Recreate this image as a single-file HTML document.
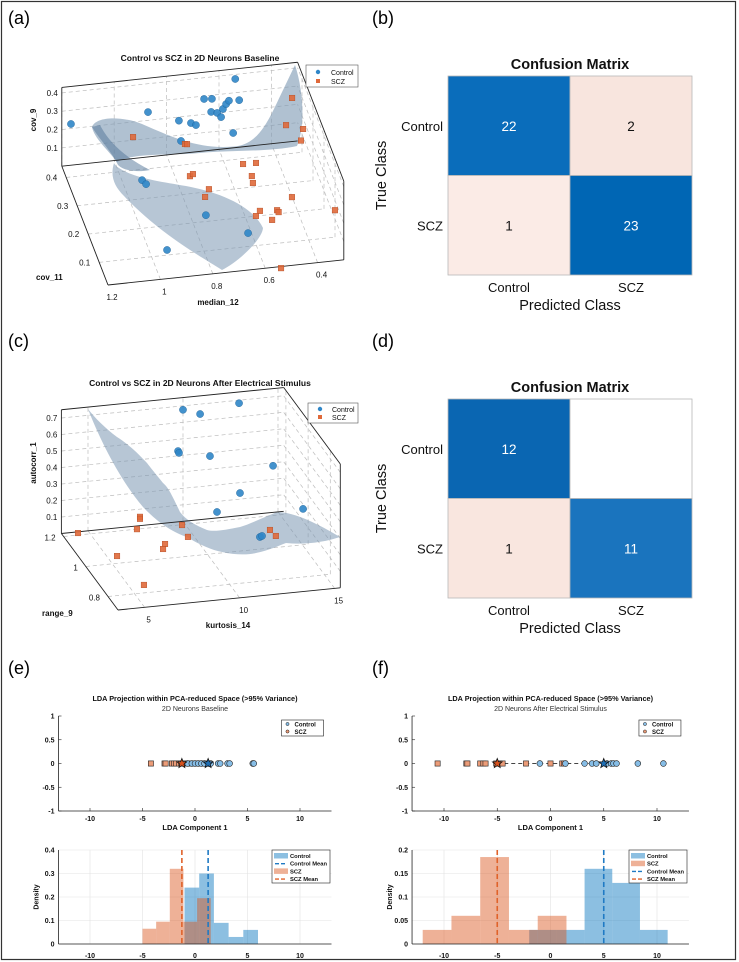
<!DOCTYPE html>
<html><head><meta charset="utf-8">
<style>
html,body{margin:0;padding:0;background:#fff;}
svg{display:block;font-family:"Liberation Sans",Arial,sans-serif;}
</style></head>
<body>
<svg id="fig" width="739" height="962" viewBox="0 0 739 962">
<rect x="1.5" y="1.5" width="734" height="958" fill="#fff" stroke="#333" stroke-width="1.2"/>
<text x="8" y="24" font-size="18">(a)</text>
<text x="372" y="24" font-size="18">(b)</text>
<text x="8" y="347" font-size="18">(c)</text>
<text x="372" y="347" font-size="18">(d)</text>
<text x="8" y="674" font-size="18">(e)</text>
<text x="372" y="674" font-size="18">(f)</text>
</svg>
<script>
// ---------------- DATA ----------------
// Panel a (3D): median_12, cov_11, cov_9
const aCtrlM = [1.165,0.871,0.753,0.707,0.688,0.745,0.657,0.627,0.63,0.607,0.592,0.585,0.573,0.562,0.523,0.538,0.546,0.931,0.922,0.747,0.618,0.939];
const aCtrlC = [0.44,0.44,0.44,0.44,0.44,0.44,0.44,0.44,0.44,0.44,0.44,0.44,0.44,0.44,0.44,0.44,0.44,0.351,0.336,0.209,0.133,0.105];
const aCtrlV = [0.225,0.245,0.18,0.16,0.146,0.068,0.284,0.28,0.209,0.2,0.175,0.218,0.243,0.26,0.257,0.375,0.081,0.02,0.02,0.02,0.02,0.02];
const aSczM = [0.928,0.73,0.722,0.321,0.344,0.279,0.287,0.538,0.489,0.75,0.736,0.523,0.529,0.699,0.724,0.406,0.543,0.479,0.476,0.565,0.511,0.267,0.547];
const aSczC = [0.44,0.44,0.44,0.44,0.44,0.44,0.44,0.369,0.368,0.347,0.353,0.325,0.301,0.296,0.271,0.239,0.204,0.2,0.193,0.188,0.169,0.179,0.002];
const aSczV = [0.117,0.049,0.047,0.238,0.093,0.062,0.0,0.02,0.02,0.02,0.02,0.02,0.02,0.02,0.02,0.02,0.02,0.02,0.02,0.02,0.02,0.02,0.02];
const aTicksM = [1.2,1,0.8,0.6,0.4];
const aTicksC = [0.1,0.2,0.3,0.4];
const aTicksV = [0.1,0.2,0.3,0.4];
// Panel c (3D): kurtosis_14, range_9, autocorr_1
const cCtrlK = [10.0,10.9,12.95,9.74,9.79,11.42,14.74,13.0,11.79,14.45,12.18,12.29];
const cCtrlR = [1.22,1.22,1.22,1.22,1.22,1.22,1.22,1.22,1.22,0.9,0.9,0.9];
const cCtrlA = [0.676,0.64,0.682,0.429,0.417,0.379,0.282,0.137,0.036,0.315,0.171,0.176];
const cSczK = [4.31,7.62,7.62,7.46,9.7,9.56,8.18,7.9,5.39,5.66,13.83,13.9];
const cSczR = [1.192,1.2,1.2,1.2,1.177,1.1,1.07,1.04,1.025,0.829,1.092,1.051];
const cSczA = [0.02,0.073,0.061,0.0,0.02,0.02,0.02,0.02,0.02,0.02,0.02,0.02];
const cTicksK = [5,10,15];
const cTicksR = [0.8,1,1.2];
const cTicksA = [0.1,0.2,0.3,0.4,0.5,0.6,0.7];
// Confusion matrices
const cmClasses = ['Control','SCZ'];
const cmB = [[22,2],[1,23]];
const cmD = [[12,0],[1,11]];
// Panel e
const eCtrlPts = [-0.7,-0.3,0.0,0.3,0.6,0.9,1.3,1.5,2.2,2.4,3.1,3.3,5.5,5.6];
const eSczPts = [-4.2,-2.9,-2.8,-2.2,-2.0,-1.8,-1.5,-1.3,-1.0,-0.7,-0.4,-0.1,0.2,0.5,0.8,1.0];
const eCtrlMean = 1.25, eSczMean = -1.25;
const eCtrlEdges = [-1.0,0.4,1.8,3.2,4.6,6.0];
const eCtrlDens = [0.24,0.30,0.09,0.03,0.06];
const eSczEdges = [-5.0,-3.7,-2.4,-1.1,0.2,1.5];
const eSczDens = [0.065,0.095,0.32,0.095,0.195];
const eYTicks = [0,0.1,0.2,0.3,0.4];
// Panel f
const fCtrlPts = [-1.0,1.4,3.2,3.9,4.3,5.3,5.7,5.9,6.2,8.2,10.6];
const fSczPts = [-10.6,-7.9,-7.8,-6.6,-6.3,-6.1,-5.1,-4.8,-4.5,-2.3,0.0,1.1,1.3];
const fCtrlMean = 5.0, fSczMean = -5.0;
const fCtrlEdges = [-2.0,0.6,3.2,5.8,8.4,11.0];
const fCtrlDens = [0.03,0.03,0.16,0.13,0.03];
const fSczEdges = [-12.0,-9.3,-6.6,-3.9,-1.2,1.5];
const fSczDens = [0.03,0.06,0.185,0.03,0.06];
const fYTicks = [0,0.05,0.1,0.15,0.2];
const ldaXTicks = [-10,-5,0,5,10];
const scatYTicks = [-1,-0.5,0,0.5,1];

// ---------------- HELPERS ----------------
const svg = document.getElementById('fig');
const NS = 'http://www.w3.org/2000/svg';
function mk(tag, attrs, parent){
  const e = document.createElementNS(NS, tag);
  for (const k in attrs) e.setAttribute(k, attrs[k]);
  (parent || svg).appendChild(e);
  return e;
}
function txt(x, y, s, size, opts, name){
  const o = Object.assign({x:x, y:y, 'font-size':size, fill:'#111'}, opts||{});
  const e = mk('text', o);
  e.textContent = s;
  
  
  return e;
}
function line(x1,y1,x2,y2,stroke,w,dash,name){
  const e = mk('line',{x1:x1,y1:y1,x2:x2,y2:y2,stroke:stroke,'stroke-width':w});
  if (dash) e.setAttribute('stroke-dasharray', dash);
  
  
  return e;
}
const CB = '#2f86c8', CBE = '#1d5f96', CO = '#e0693a', COE = '#b04a22';

// ---------------- PANEL A ----------------
function pa(m,c,v){ return [108 + (m-1.2)*(-262) + (c-0.02)*(-110), 285 + (m-1.2)*28 + (c-0.02)*(-283) - v*183]; }
const A_M0=1.2, A_M1=0.3, A_C0=0.02, A_C1=0.44, A_V1=0.43;
(function(){
  const g = mk('g',{});
  
  
  const gs='#bdbdbd', dash='4,3';
  // back wall grid
  aTicksV.forEach(v=>{ const p=pa(A_M0,A_C1,v), q=pa(A_M1,A_C1,v); line(p[0],p[1],q[0],q[1],gs,0.7,dash,'a-grid-back-v'); });
  aTicksM.forEach(m=>{ const p=pa(m,A_C1,0), q=pa(m,A_C1,A_V1); line(p[0],p[1],q[0],q[1],gs,0.7,dash,'a-grid-back-m'); });
  // floor grid
  aTicksM.forEach(m=>{ const p=pa(m,A_C0,0), q=pa(m,A_C1,0); line(p[0],p[1],q[0],q[1],gs,0.7,dash,'a-grid-floor-m'); });
  aTicksC.forEach(c=>{ const p=pa(A_M0,c,0), q=pa(A_M1,c,0); line(p[0],p[1],q[0],q[1],gs,0.7,dash,'a-grid-floor-c'); });
  // right wall grid
  aTicksC.forEach(c=>{ const p=pa(A_M1,c,0), q=pa(A_M1,c,A_V1); line(p[0],p[1],q[0],q[1],gs,0.7,dash,'a-grid-right-c'); });
  aTicksV.forEach(v=>{ const p=pa(A_M1,A_C0,v), q=pa(A_M1,A_C1,v); line(p[0],p[1],q[0],q[1],gs,0.7,dash,'a-grid-right-v'); });
  // decision surface
  const s1 = mk('path',{d:'M92,127 C96,116 122,116 142,124 C170,136 200,151 238,146 C262,142 272,112 284,88 L295,65 C304,92 305,128 297,146 C270,152 230,150 200,153 C170,156 135,152 117,162 C108,150 94,138 92,127 Z',fill:'#7b98b3','fill-opacity':0.6});
  
  
  const s2 = mk('path',{d:'M114,163 C110,176 114,186 124,196 C160,234 200,256 222,270 C238,262 262,240 263,228 C252,205 218,192 186,186 C158,181 132,178 116,166 Z',fill:'#7b98b3','fill-opacity':0.55});
  
  
  const s3 = mk('path',{d:'M92,127 C100,140 112,152 118,165 C125,172 140,172 150,170 C130,160 110,145 100,125 Z',fill:'#4f7397','fill-opacity':0.5});
  
  
  // box edges
  const E=[[[A_M0,A_C1,0],[A_M0,A_C1,A_V1]],[[A_M0,A_C1,A_V1],[A_M1,A_C1,A_V1]],[[A_M0,A_C1,0],[A_M1,A_C1,0]],[[A_M1,A_C1,A_V1],[A_M1,A_C0,A_V1]],[[A_M1,A_C0,0],[A_M1,A_C0,A_V1]],[[A_M0,A_C0,0],[A_M1,A_C0,0]],[[A_M0,A_C0,0],[A_M0,A_C1,0]],[[A_M1,A_C1,A_V1],[A_M1,A_C1,0]]];
  E.slice(0,7).forEach(e=>{ const p=pa(...e[0]), q=pa(...e[1]); line(p[0],p[1],q[0],q[1],'#222',0.9,null,'a-box-edge'); });
  // points
  aCtrlM.forEach((m,i)=>{ const p=pa(m,aCtrlC[i],aCtrlV[i]);
    const el=mk('circle',{cx:p[0],cy:p[1],r:3.6,fill:CB,stroke:CBE,'stroke-width':0.4,'fill-opacity':0.9});
    
     });
  aSczM.forEach((m,i)=>{ const p=pa(m,aSczC[i],aSczV[i]);
    const el=mk('rect',{x:p[0]-2.8,y:p[1]-2.8,width:5.6,height:5.6,fill:CO,stroke:COE,'stroke-width':0.4,'fill-opacity':0.9});
    
     });
  // ticks
  aTicksV.forEach(v=>{ const p=pa(A_M0,A_C1,v); txt(p[0]-4,p[1]+3,String(v),8,{'text-anchor':'end'},'a-zaxis-tick'); });
  aTicksC.forEach(c=>{ const p=pa(A_M0,c,0); txt(p[0]-9,p[1]+3,String(c),8,{'text-anchor':'end'},'a-yaxis-tick'); });
  aTicksM.forEach(m=>{ const p=pa(m,A_C0,0); txt(p[0]+4,p[1]+15,String(m),8,{'text-anchor':'middle'},'a-xaxis-tick'); });
  txt(200,61,'Control vs SCZ in 2D Neurons Baseline',8.5,{'font-weight':'bold','text-anchor':'middle'},'a-title');
  txt(36,120,'cov_9',8,{'font-weight':'bold','text-anchor':'middle',transform:'rotate(-90 36 120)'},'a-zaxis-title');
  txt(36,280,'cov_11',8,{'font-weight':'bold'},'a-yaxis-title');
  txt(218,305,'median_12',8,{'font-weight':'bold','text-anchor':'middle'},'a-xaxis-title');
  const lg=mk('rect',{x:306,y:65,width:52,height:22,fill:'#fff',stroke:'#555','stroke-width':0.6});
  
  
  const lc=mk('circle',{cx:318,cy:72,r:2.2,fill:CB});
  
  
  txt(331,75,'Control',7,{},'a-legend-control');
  const ls=mk('rect',{x:316,y:79,width:4,height:4,fill:CO});
  
  
  txt(331,84,'SCZ',7,{},'a-legend-scz');
})();

// ---------------- PANEL C ----------------
function pc(k,r,a){ return [118 + (k-3.6)*19 + (r-0.71)*(-111), 610 + (k-3.6)*(-1.9) + (r-0.71)*(-150) - a*165]; }
const C_K0=3.6, C_K1=15.3, C_R0=0.71, C_R1=1.22, C_A1=0.75;
(function(){
  const gs='#bdbdbd', dash='4,3';
  cTicksA.forEach(a=>{ const p=pc(C_K0,C_R1,a), q=pc(C_K1,C_R1,a); line(p[0],p[1],q[0],q[1],gs,0.7,dash,'c-grid-back-a'); });
  cTicksK.forEach(k=>{ const p=pc(k,C_R1,0), q=pc(k,C_R1,C_A1); line(p[0],p[1],q[0],q[1],gs,0.7,dash,'c-grid-back-k'); });
  cTicksK.forEach(k=>{ const p=pc(k,C_R0,0), q=pc(k,C_R1,0); line(p[0],p[1],q[0],q[1],gs,0.7,dash,'c-grid-floor-k'); });
  cTicksR.forEach(r=>{ const p=pc(C_K0,r,0), q=pc(C_K1,r,0); line(p[0],p[1],q[0],q[1],gs,0.7,dash,'c-grid-floor-r'); });
  cTicksR.forEach(r=>{ const p=pc(C_K1,r,0), q=pc(C_K1,r,C_A1); line(p[0],p[1],q[0],q[1],gs,0.7,dash,'c-grid-right-r'); });
  cTicksA.forEach(a=>{ const p=pc(C_K1,C_R0,a), q=pc(C_K1,C_R1,a); line(p[0],p[1],q[0],q[1],gs,0.7,dash,'c-grid-right-a'); });
  const s = mk('path',{d:'M88,409 C100,440 120,480 143,507 C160,525 175,533 187,537 C200,545 212,550 222,552 C235,555 248,555 256,553 C270,550 278,546 286,543 C305,545 325,542 340,537 C320,525 295,512 277,512 C262,518 250,524 240,527 C225,530 214,532 207,530 C195,525 186,520 180,512 C172,495 168,487 163,483 C155,473 150,467 147,463 C135,450 125,442 117,437 C105,428 95,418 88,409 Z',fill:'#7b98b3','fill-opacity':0.55});
  
  
  const E=[[[C_K0,C_R1,0],[C_K0,C_R1,C_A1]],[[C_K0,C_R1,C_A1],[C_K1,C_R1,C_A1]],[[C_K0,C_R1,0],[C_K1,C_R1,0]],[[C_K1,C_R1,C_A1],[C_K1,C_R0,C_A1]],[[C_K1,C_R0,0],[C_K1,C_R0,C_A1]],[[C_K0,C_R0,0],[C_K1,C_R0,0]],[[C_K0,C_R0,0],[C_K0,C_R1,0]]];
  E.forEach(e=>{ const p=pc(...e[0]), q=pc(...e[1]); line(p[0],p[1],q[0],q[1],'#222',0.9,null,'c-box-edge'); });
  cCtrlK.forEach((k,i)=>{ const p=pc(k,cCtrlR[i],cCtrlA[i]);
    const el=mk('circle',{cx:p[0],cy:p[1],r:3.6,fill:CB,stroke:CBE,'stroke-width':0.4,'fill-opacity':0.9});
    
     });
  cSczK.forEach((k,i)=>{ const p=pc(k,cSczR[i],cSczA[i]);
    const el=mk('rect',{x:p[0]-2.8,y:p[1]-2.8,width:5.6,height:5.6,fill:CO,stroke:COE,'stroke-width':0.4,'fill-opacity':0.9});
    
     });
  cTicksA.forEach(a=>{ const p=pc(C_K0,C_R1,a); txt(p[0]-4,p[1]+3,String(a),8,{'text-anchor':'end'},'c-zaxis-tick'); });
  cTicksR.forEach(r=>{ const p=pc(C_K0,r,0); txt(p[0]-8,p[1]+4,String(r),8,{'text-anchor':'end'},'c-yaxis-tick'); });
  cTicksK.forEach(k=>{ const p=pc(k,C_R0,0); txt(p[0]+4,p[1]+15,String(k),8,{'text-anchor':'middle'},'c-xaxis-tick'); });
  txt(200,386,'Control vs SCZ in 2D Neurons After Electrical Stimulus',8.5,{'font-weight':'bold','text-anchor':'middle'},'c-title');
  txt(36,463,'autocorr_1',8,{'font-weight':'bold','text-anchor':'middle',transform:'rotate(-90 36 463)'},'c-zaxis-title');
  txt(42,616,'range_9',8,{'font-weight':'bold'},'c-yaxis-title');
  txt(228,628,'kurtosis_14',8,{'font-weight':'bold','text-anchor':'middle'},'c-xaxis-title');
  const lg=mk('rect',{x:308,y:403,width:50,height:20,fill:'#fff',stroke:'#555','stroke-width':0.6});
  
  
  const lc=mk('circle',{cx:320,cy:409,r:2.2,fill:CB});
  
  
  txt(332,412,'Control',7,{},'c-legend-control');
  const ls=mk('rect',{x:318,y:415,width:4,height:4,fill:CO});
  
  
  txt(332,420,'SCZ',7,{},'c-legend-scz');
})();

// ---------------- CONFUSION MATRICES ----------------
function confMat(vals, x0, y0, w, h, id, colors){
  const cw=w/2, ch=h/2;
  for (let r=0;r<2;r++) for (let c=0;c<2;c++){
    const el=mk('rect',{x:x0+c*cw,y:y0+r*ch,width:cw,height:ch,fill:colors[r][c],stroke:'#b8b8b8','stroke-width':0.8});
    
    
    if (vals[r][c]>0) txt(x0+c*cw+cw/2, y0+r*ch+ch/2+5, String(vals[r][c]), 13.5, {'text-anchor':'middle',fill: (r===c?'#fff':'#111')}, id+'-cell-value');
  }
  txt(x0+w/2, y0-7, 'Confusion Matrix', 14.5, {'font-weight':'bold','text-anchor':'middle'}, id+'-title');
  cmClasses.forEach((s,i)=>{
    txt(x0-5, y0+i*ch+ch/2+5, s, 13, {'text-anchor':'end'}, id+'-row-label');
    txt(x0+i*cw+cw/2, y0+h+17, s, 13, {'text-anchor':'middle'}, id+'-col-label');
  });
  txt(x0+w/2, y0+h+35, 'Predicted Class', 14.5, {'text-anchor':'middle'}, id+'-xaxis-title');
  txt(x0-62, y0+h/2, 'True Class', 14.5, {'text-anchor':'middle',transform:'rotate(-90 '+(x0-62)+' '+(y0+h/2)+')'}, id+'-yaxis-title');
}
confMat(cmB, 448, 76, 244, 199, 'cm-b', [['#0a6dbb','#f8e5de'],['#fbebe6','#0066b4']]);
confMat(cmD, 448, 399, 244, 199, 'cm-d', [['#0a66b2','#ffffff'],['#f9e6df','#1a74be']]);

// ---------------- LDA PANELS ----------------
function ldaPanel(o){
  const X = v => o.x0 + v*o.kx;
  const Ys = v => 763.5 - v*47.5;
  const Yh = v => 944 - v*o.ky;
  const L=X(-13), R=X(13);
  // scatter axes
  line(L,716,L,811,'#222',0.8,null,o.id+'-scatter-yaxis');
  line(L,811,R,811,'#222',0.8,null,o.id+'-scatter-xaxis');
  scatYTicks.forEach(t=>{ line(L,Ys(t),L+3,Ys(t),'#222',0.6,null,o.id+'-scatter-ytick'); txt(L-4,Ys(t)+2.5,String(t),7,{'text-anchor':'end','font-weight':'bold'},o.id+'-scatter-ytick-label'); });
  ldaXTicks.forEach(t=>{ line(X(t),811,X(t),808,'#222',0.6,null,o.id+'-scatter-xtick'); txt(X(t),821,String(t),7,{'text-anchor':'middle','font-weight':'bold'},o.id+'-scatter-xtick-label'); });
  txt((L+R)/2,701,'LDA Projection within PCA-reduced Space (>95% Variance)',7.3,{'font-weight':'bold','text-anchor':'middle'},o.id+'-title');
  txt((L+R)/2,711,o.sub,7,{'text-anchor':'middle',fill:'#333'},o.id+'-subtitle');
  txt((L+R)/2,830,'LDA Component 1',7.5,{'font-weight':'bold','text-anchor':'middle'},o.id+'-scatter-xaxis-title');
  // mean connector
  line(X(o.sMean),Ys(0),X(o.cMean),Ys(0),'#444',1,'4,3',o.id+'-mean-connector');
  o.sPts.forEach(v=>{ const el=mk('rect',{x:X(v)-2.6,y:Ys(0)-2.6,width:5.2,height:5.2,fill:'#ec9c78',stroke:'#222','stroke-width':0.6});
    
     });
  o.cPts.forEach(v=>{ const el=mk('circle',{cx:X(v),cy:Ys(0),r:2.9,fill:'#86bde6',stroke:'#222','stroke-width':0.6});
    
     });
  function star(cx,cy,fill,name){
    let d=''; for(let i=0;i<10;i++){ const a=-Math.PI/2+i*Math.PI/5, rr=i%2?2.2:5; d+=(i?'L':'M')+(cx+rr*Math.cos(a)).toFixed(2)+','+(cy+rr*Math.sin(a)).toFixed(2); }
    const el=mk('path',{d:d+'Z',fill:fill,stroke:'#111','stroke-width':0.8});
    
    
  }
  star(X(o.sMean),Ys(0),'#d9531e',o.id+'-scz-mean-star');
  star(X(o.cMean),Ys(0),'#1f6fb5',o.id+'-control-mean-star');
  // scatter legend
  const lg=mk('rect',{x:R-50,y:720,width:42,height:16,fill:'#fff',stroke:'#222','stroke-width':0.6});
  
  
  const m1=mk('circle',{cx:R-44,cy:724,r:1.6,fill:'#86bde6',stroke:'#222','stroke-width':0.5});
  
  
  txt(R-37,726.5,'Control',6,{'font-weight':'bold'},o.id+'-legend-control');
  const m2=mk('circle',{cx:R-44,cy:731.5,r:1.6,fill:'#ec9c78',stroke:'#222','stroke-width':0.5});
  
  
  txt(R-37,734,'SCZ',6,{'font-weight':'bold'},o.id+'-legend-scz');
  // histogram grid
  o.yTicks.forEach(t=>{ line(L,Yh(t),R,Yh(t),'#e3e3e3',0.6,null,o.id+'-hist-hgrid'); txt(L-4,Yh(t)+2.5,String(t),7,{'text-anchor':'end','font-weight':'bold'},o.id+'-hist-ytick-label'); });
  ldaXTicks.forEach(t=>{ line(X(t),850,X(t),944,'#e3e3e3',0.6,null,o.id+'-hist-vgrid'); txt(X(t),958,String(t),7,{'text-anchor':'middle','font-weight':'bold'},o.id+'-hist-xtick-label'); });
  // bars
  o.cDens.forEach((d,i)=>{ const el=mk('rect',{x:X(o.cEdges[i]),y:Yh(d),width:X(o.cEdges[i+1])-X(o.cEdges[i]),height:Yh(0)-Yh(d),fill:'#0072bd','fill-opacity':0.45});
    
     });
  o.sDens.forEach((d,i)=>{ const el=mk('rect',{x:X(o.sEdges[i]),y:Yh(d),width:X(o.sEdges[i+1])-X(o.sEdges[i]),height:Yh(0)-Yh(d),fill:'#d95319','fill-opacity':0.45});
    
     });
  line(X(o.cMean),850,X(o.cMean),944,'#1f7ac4',1.6,'5,3',o.id+'-control-mean-line');
  line(X(o.sMean),850,X(o.sMean),944,'#e0622a',1.6,'5,3',o.id+'-scz-mean-line');
  line(L,850,L,944,'#222',0.8,null,o.id+'-hist-yaxis');
  line(L,944,R,944,'#222',0.8,null,o.id+'-hist-xaxis');
  txt(L-20,897,'Density',7,{'font-weight':'bold','text-anchor':'middle',transform:'rotate(-90 '+(L-20)+' 897)'},o.id+'-hist-yaxis-title');
  // hist legend
  const hl=mk('rect',{x:o.hlx,y:850,width:58,height:33,fill:'#fff',stroke:'#222','stroke-width':0.6});
  
  
  o.legend.forEach((e,i)=>{
    const yy=853+i*7.7;
    if (e[1]==='bar'){ const el=mk('rect',{x:o.hlx+2,y:yy,width:14,height:5.5,fill:e[2],'fill-opacity':0.45});
      
       }
    else line(o.hlx+3,yy+3,o.hlx+15,yy+3,e[2],1.4,'4,2',o.id+'-hist-legend-line');
    txt(o.hlx+18,yy+5,e[0],5.8,{'font-weight':'bold'},o.id+'-hist-legend-entry');
  });
}
ldaPanel({id:'e',x0:195,kx:10.5,ky:235,sub:'2D Neurons Baseline',cPts:eCtrlPts,sPts:eSczPts,cMean:eCtrlMean,sMean:eSczMean,cEdges:eCtrlEdges,cDens:eCtrlDens,sEdges:eSczEdges,sDens:eSczDens,yTicks:eYTicks,hlx:272,
  legend:[['Control','bar','#0072bd'],['Control Mean','line','#1f7ac4'],['SCZ','bar','#d95319'],['SCZ Mean','line','#e0622a']]});
ldaPanel({id:'f',x0:550.5,kx:10.65,ky:470,sub:'2D Neurons After Electrical Stimulus',cPts:fCtrlPts,sPts:fSczPts,cMean:fCtrlMean,sMean:fSczMean,cEdges:fCtrlEdges,cDens:fCtrlDens,sEdges:fSczEdges,sDens:fSczDens,yTicks:fYTicks,hlx:629,
  legend:[['Control','bar','#0072bd'],['SCZ','bar','#d95319'],['Control Mean','line','#1f7ac4'],['SCZ Mean','line','#e0622a']]});
</script>
</body></html>
